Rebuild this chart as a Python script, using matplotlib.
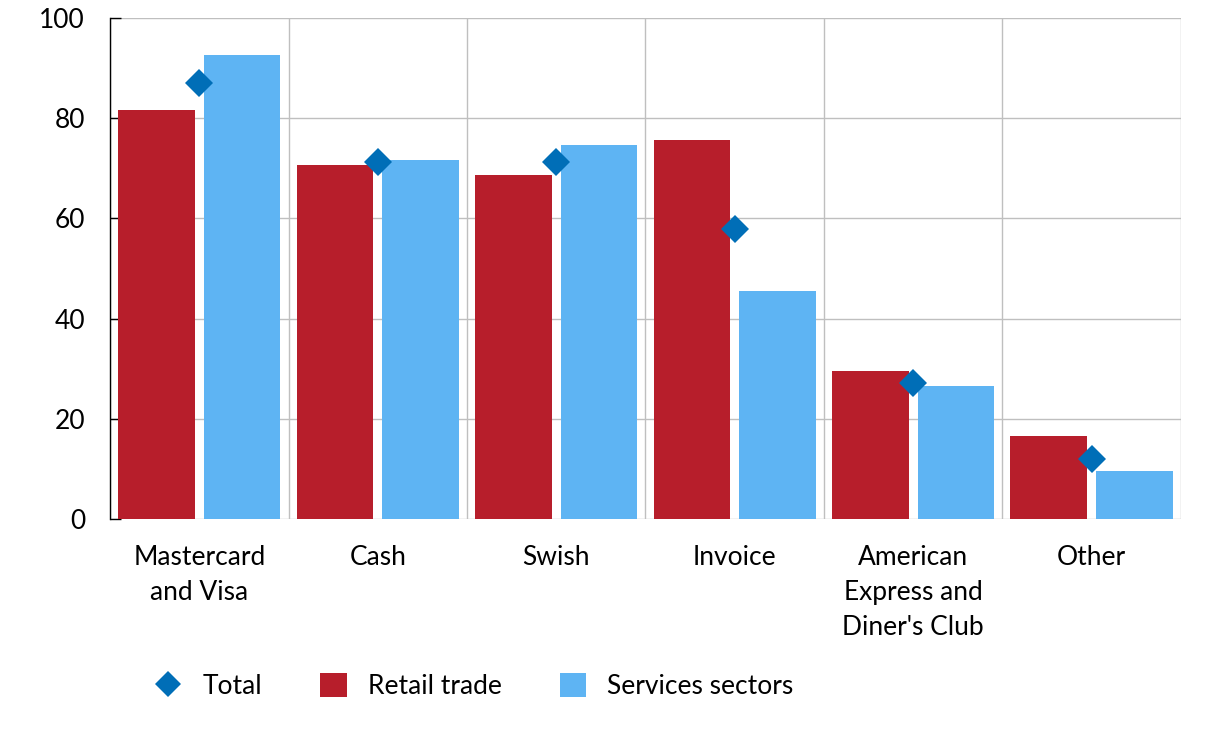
import matplotlib
matplotlib.use("Agg")
import matplotlib.pyplot as plt
import numpy as np
from matplotlib.lines import Line2D
from matplotlib.patches import Patch

categories = ["Mastercard\nand Visa", "Cash", "Swish", "Invoice",
              "American\nExpress and\nDiner's Club", "Other"]
retail = [81.6, 70.6, 68.6, 75.6, 29.5, 16.6]
services = [92.6, 71.6, 74.6, 45.5, 26.5, 9.6]
total = [87.0, 71.2, 71.2, 57.9, 27.1, 12.0]
yticks = [0, 20, 40, 60, 80, 100]

RED = "#B71E2B"
BLUE = "#5EB4F3"
DKBLUE = "#006EB7"
GRID = "#BFBFBF"
FS = 19

plt.rcParams['font.family'] = ['Lato', 'DejaVu Sans']

fig = plt.figure(figsize=(12.21, 7.34), dpi=100)
ax = fig.add_axes([0.0901, 0.2929, 0.9672 - 0.0901, 0.9755 - 0.2929])

x = np.arange(len(categories))
w = 0.43
ax.bar(x - 0.24, retail, width=w, color=RED, zorder=3)
ax.bar(x + 0.24, services, width=w, color=BLUE, zorder=3)
ax.plot(x, total, linestyle='none', marker='D', markersize=14,
        color=DKBLUE, markeredgewidth=0, zorder=4)

ax.set_xlim(-0.5, len(categories) - 0.5)
ax.set_ylim(0, 100)
ax.set_yticks(yticks)
ax.set_yticklabels([str(v) for v in yticks], fontsize=FS, color='black')

# vertical grid at category boundaries
ax.set_xticks(np.arange(-0.5, len(categories), 1.0), minor=True)
ax.set_xticks(x)
ax.set_xticklabels(categories, fontsize=FS, linespacing=1.5, va='top')
ax.tick_params(axis='x', which='both', length=0, pad=19)
ax.grid(axis='y', color=GRID, linewidth=1, zorder=0)
ax.grid(axis='x', which='minor', color=GRID, linewidth=1, zorder=0)
ax.grid(axis='x', which='major', visible=False)

for s in ['top', 'right', 'bottom']:
    ax.spines[s].set_visible(False)
ax.spines['left'].set_color('black')
ax.spines['left'].set_linewidth(1)
ax.spines['left'].set_zorder(5)
ax.tick_params(axis='y', direction='in', length=8, width=1, pad=18)

handles = [
    Line2D([0], [0], linestyle='none', marker='D', markersize=13,
           color=DKBLUE, markeredgewidth=0),
    Patch(facecolor=RED),
    Patch(facecolor=BLUE),
]
labels = ["Total", "Retail trade", "Services sectors"]
fig.legend(handles, labels, loc='center left', bbox_to_anchor=(0.127, 0.065),
           ncol=3, frameon=False, fontsize=FS, handlelength=1.0,
           handleheight=1.0, columnspacing=2.2, handletextpad=0.8,
           borderpad=0, borderaxespad=0)

fig.savefig("out.png", dpi=100)
